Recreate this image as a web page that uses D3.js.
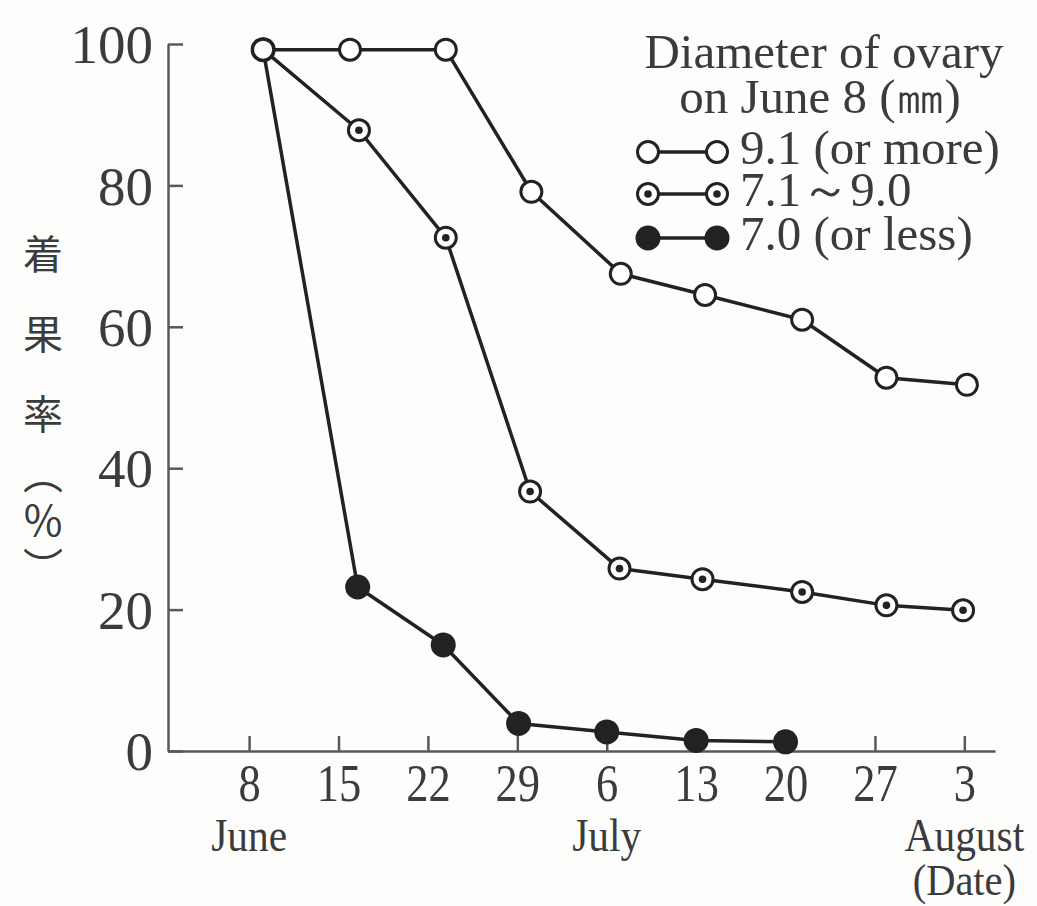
<!DOCTYPE html>
<html>
<head>
<meta charset="utf-8">
<script src="https://cdn.jsdelivr.net/npm/d3@7"></script>
<style>
  html, body { margin: 0; padding: 0; background: #fdfdfc; }
  svg { display: block; }
  text { fill: #3b3b3b; }
</style>
</head>
<body>
<svg id="chart" width="1037" height="906"></svg>
<script>
// Day numbers are counted from June 1 (= day 0).
const tickDays   = [7, 14, 21, 28, 35, 42, 49, 56, 63];
const tickLabels = ["8", "15", "22", "29", "6", "13", "20", "27", "3"];
const yTicks     = [0, 20, 40, 60, 80, 100];

// Fruit-set rate (%) by ovary diameter class
const largeDays   = [8.1, 14.9, 22.4, 29.1, 36.1, 42.7, 50.3, 56.9, 63.2];
const largeValues = [99.2, 99.2, 99.2, 79.1, 67.5, 64.5, 61.0, 52.8, 51.8];

const midDays   = [8.1, 15.6, 22.4, 29.0, 36.0, 42.5, 50.3, 56.9, 62.9];
const midValues = [99.2, 87.8, 72.6, 36.7, 25.8, 24.3, 22.5, 20.6, 19.9];

const smallDays   = [8.1, 15.5, 22.2, 28.1, 35.0, 42.0, 49.0];
const smallValues = [99.2, 23.2, 15.0, 3.9, 2.7, 1.5, 1.3];

const seriesNames = ["9.1 (or more)", "7.1～9.0", "7.0 (or less)"];
const markerKinds = ["open", "dotted", "filled"];

const svg = d3.select("#chart");
const ink = "#222";

const x = d3.scaleLinear().domain([0.65, 65.4]).range([168, 995]);
const y = d3.scaleLinear().domain([0, 100]).range([751, 44]);

// Axes: ticks point inward
const xAxis = d3.axisBottom(x).tickValues(tickDays)
  .tickFormat((d, i) => tickLabels[i]).tickSize(-15).tickSizeOuter(0).tickPadding(12);
const yAxis = d3.axisLeft(y).tickValues(yTicks).tickSize(-15).tickSizeOuter(0).tickPadding(15);

const gx = svg.append("g").attr("transform", `translate(0,${y(0)})`).call(xAxis);
const gy = svg.append("g").attr("transform", `translate(${x.range()[0]},0)`).call(yAxis);

[gx, gy].forEach(g => {
  g.select(".domain").attr("stroke", "#585858").attr("stroke-width", 2.5);
  g.selectAll(".tick line").attr("stroke", "#585858").attr("stroke-width", 2.5);
  g.selectAll(".tick text")
    .attr("font-family", "'Liberation Serif', serif")
    .attr("fill", "#444");
});
gx.selectAll(".tick text").attr("font-size", 53).attr("transform", "scale(0.84,1)");
gy.selectAll(".tick text").attr("font-size", 55).attr("dy", "0.34em");

// Month labels under the date ticks
const monthLabels = [["June", 7], ["July", 35], ["August", 63]];
svg.append("g").selectAll("text").data(monthLabels).join("text")
  .attr("x", 0)
  .attr("y", 0)
  .attr("text-anchor", "middle")
  .attr("font-family", "'Liberation Serif', serif")
  .attr("font-size", 46)
  .attr("fill", "#444")
  .attr("transform", d => `translate(${x(d[1])},851) scale(0.9,1)`)
  .text(d => d[0]);
svg.append("text")
  .attr("x", 0).attr("y", 0)
  .attr("text-anchor", "middle")
  .attr("font-family", "'Liberation Serif', serif")
  .attr("font-size", 45)
  .attr("fill", "#444")
  .attr("transform", `translate(${x(63)},895) scale(0.9,1)`)
  .text("(Date)");

// Vertical y-axis title, one character per line; the vertical-form
// parentheses sit low / high in their em box, hence the offsets
const titleChars = [["着", 252, 40], ["果", 332, 40], ["率", 412, 40],
                    ["︵", 472, 40], ["%", 517, 42], ["︶", 565, 40]];
svg.append("g")
  .attr("font-family", "'Noto Sans CJK JP', sans-serif")
  .attr("fill", "#444")
  .selectAll("text").data(titleChars).join("text")
  .attr("x", 43)
  .attr("y", d => d[1])
  .attr("text-anchor", "middle")
  .attr("dominant-baseline", "central")
  .attr("font-size", d => d[2])
  .text(d => d[0]);

// Marker drawing
function drawMarker(g, kind, cx, cy) {
  if (kind === "filled") {
    g.append("circle").attr("cx", cx).attr("cy", cy).attr("r", 12.5).attr("fill", ink);
  } else {
    g.append("circle").attr("cx", cx).attr("cy", cy).attr("r", 10.5)
      .attr("fill", "#fff").attr("stroke", ink).attr("stroke-width", 3);
    if (kind === "dotted") {
      g.append("circle").attr("cx", cx).attr("cy", cy).attr("r", 3.8).attr("fill", ink);
    }
  }
}

const series = [
  { days: largeDays, values: largeValues, kind: markerKinds[0] },
  { days: midDays,   values: midValues,   kind: markerKinds[1] },
  { days: smallDays, values: smallValues, kind: markerKinds[2] }
];

const line = d3.line().x(d => x(d[0])).y(d => y(d[1]));

series.forEach(s => {
  const pts = s.days.map((d, i) => [d, s.values[i]]);
  svg.append("path").datum(pts)
    .attr("d", line)
    .attr("fill", "none")
    .attr("stroke", ink)
    .attr("stroke-width", 3.5)
    .attr("stroke-linejoin", "round");
});
// markers drawn after all lines so they sit on top
series.slice().reverse().forEach(s => {
  const g = svg.append("g");
  s.days.forEach((d, i) => drawMarker(g, s.kind, x(d), y(s.values[i])));
});

// Legend
const legend = svg.append("g").attr("font-family", "'Liberation Serif', serif").attr("font-size", 49).attr("fill", "#444");
legend.append("text").attr("x", 824).attr("y", 68).attr("text-anchor", "middle").text("Diameter of ovary");
legend.append("text").attr("x", 820).attr("y", 113).attr("text-anchor", "middle").text("on June 8 (㎜)");
const legendRows = [152, 194, 238];
seriesNames.forEach((name, i) => {
  const cy = legendRows[i];
  legend.append("line").attr("x1", 648).attr("x2", 717).attr("y1", cy).attr("y2", cy)
    .attr("stroke", ink).attr("stroke-width", 3.5);
  const g = legend.append("g");
  drawMarker(g, markerKinds[i], 648, cy);
  drawMarker(g, markerKinds[i], 717, cy);
  legend.append("text").attr("x", 740).attr("y", cy + 12).text(name);
});
</script>
</body>
</html>
